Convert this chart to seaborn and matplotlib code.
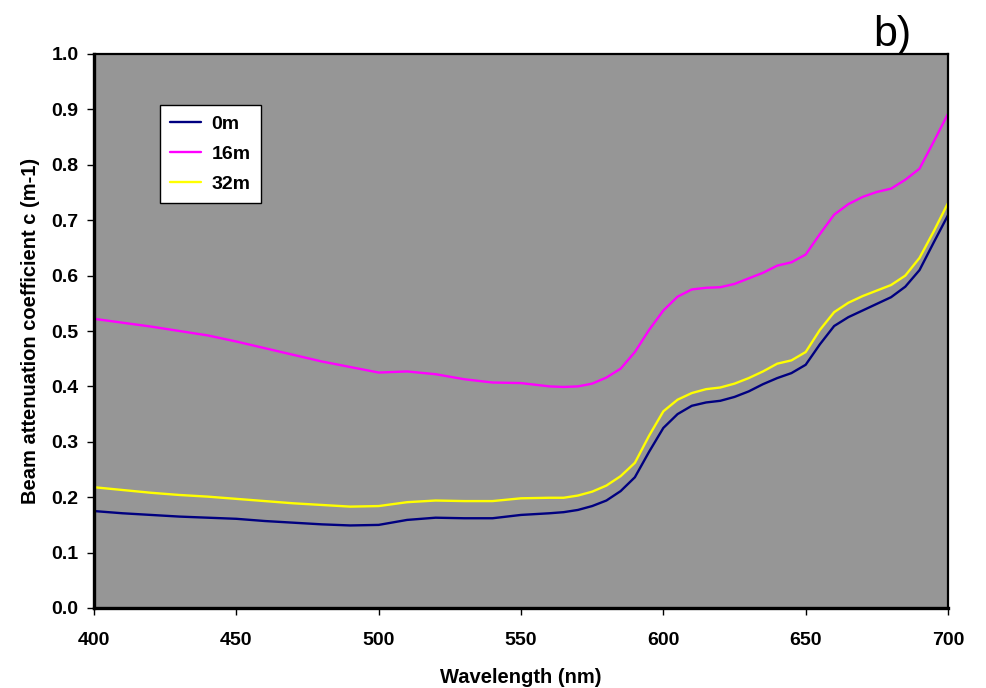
import matplotlib
matplotlib.use("Agg")
import matplotlib.pyplot as plt
import seaborn as sns
import pandas as pd

wavelength = [400, 410, 420, 430, 440, 450, 460, 470, 480, 490, 500, 510, 520, 530, 540, 550, 560,
              565, 570, 575, 580, 585, 590, 595, 600, 605, 610, 615, 620, 625, 630, 635, 640, 645,
              650, 655, 660, 665, 670, 675, 680, 685, 690, 695, 700]

c_0m = [0.175, 0.171, 0.168, 0.165, 0.163, 0.161, 0.157, 0.154, 0.151, 0.149, 0.150, 0.159, 0.163,
        0.162, 0.162, 0.168, 0.171, 0.173, 0.177, 0.184, 0.194, 0.211, 0.236, 0.282, 0.325, 0.350,
        0.365, 0.371, 0.374, 0.381, 0.391, 0.404, 0.415, 0.424, 0.439, 0.476, 0.509, 0.525, 0.537,
        0.549, 0.561, 0.580, 0.610, 0.660, 0.709]

c_16m = [0.522, 0.515, 0.508, 0.500, 0.492, 0.481, 0.469, 0.457, 0.445, 0.435, 0.425, 0.427, 0.422,
         0.413, 0.407, 0.406, 0.400, 0.399, 0.400, 0.405, 0.416, 0.432, 0.462, 0.502, 0.537, 0.562,
         0.575, 0.578, 0.579, 0.585, 0.595, 0.605, 0.618, 0.624, 0.638, 0.675, 0.710, 0.729, 0.742,
         0.751, 0.757, 0.773, 0.793, 0.842, 0.892]

c_32m = [0.218, 0.213, 0.208, 0.204, 0.201, 0.197, 0.193, 0.189, 0.186, 0.183, 0.184, 0.191, 0.194,
         0.193, 0.193, 0.198, 0.199, 0.199, 0.203, 0.210, 0.221, 0.238, 0.262, 0.311, 0.355, 0.376,
         0.388, 0.395, 0.398, 0.405, 0.415, 0.427, 0.441, 0.447, 0.462, 0.502, 0.534, 0.551, 0.563,
         0.573, 0.583, 0.600, 0.632, 0.680, 0.731]

series_names = ["0m", "16m", "32m"]
colors = ["#000080", "#FF00FF", "#FFFF00"]

x_ticks = [400, 450, 500, 550, 600, 650, 700]
y_ticks = [0.0, 0.1, 0.2, 0.3, 0.4, 0.5, 0.6, 0.7, 0.8, 0.9, 1.0]

rows = []
for name, vals in zip(series_names, [c_0m, c_16m, c_32m]):
    for w, v in zip(wavelength, vals):
        rows.append({"Wavelength": w, "c": v, "Depth": name})
df = pd.DataFrame(rows)

sns.set_style("white")
plt.rcParams['font.family'] = ['Liberation Sans', 'DejaVu Sans']
plt.rcParams['text.color'] = 'black'
plt.rcParams['axes.labelcolor'] = 'black'
plt.rcParams['xtick.color'] = 'black'
plt.rcParams['ytick.color'] = 'black'

fig = plt.figure(figsize=(9.86, 6.88), dpi=100)
ax = fig.add_axes([94/986, 1 - 608/688, (948 - 94)/986, (608 - 54)/688])
ax.set_facecolor("#969696")

sns.lineplot(data=df, x="Wavelength", y="c", hue="Depth", hue_order=series_names,
             palette=dict(zip(series_names, colors)), linewidth=1.7, ax=ax)
for ln in ax.get_lines():
    ln.set_solid_joinstyle("round")

ax.set_xlim(400, 700)
ax.set_ylim(0, 1.0)
ax.set_xticks(x_ticks)
ax.set_xticklabels([str(t) for t in x_ticks], fontweight="bold", fontsize=14)
ax.set_yticks(y_ticks)
ax.set_yticklabels([f"{t:.1f}" for t in y_ticks], fontweight="bold", fontsize=14)
ax.tick_params(axis="both", direction="out", length=5, width=1, color="black",
               labelcolor="black", bottom=True, left=True)
ax.tick_params(axis="y", pad=6)
ax.tick_params(axis="x", pad=12)

for side in ["left", "bottom"]:
    ax.spines[side].set_linewidth(2.4)
    ax.spines[side].set_color("black")
for side in ["top", "right"]:
    ax.spines[side].set_linewidth(1.6)
    ax.spines[side].set_color("black")

ax.set_xlabel("Wavelength (nm)", fontweight="bold", fontsize=14.5, labelpad=14, color="black")
ax.set_ylabel("Beam attenuation coefficient c (m-1)", fontweight="bold", fontsize=14.5,
              labelpad=8, color="black")

leg = ax.legend(loc="upper left", bbox_to_anchor=(0.077, 0.908), borderaxespad=0,
                frameon=True, fancybox=False, fontsize=14, handlelength=1.55,
                labelspacing=0.62, borderpad=0.55, handletextpad=0.55)
leg.get_frame().set_facecolor("white")
leg.get_frame().set_edgecolor("black")
leg.get_frame().set_linewidth(1.0)
leg.get_frame().set_alpha(1)
for t in leg.get_texts():
    t.set_fontweight("bold")
    t.set_color("black")

fig.text(892/986, 1 - 46/688, "b)", fontsize=31, ha="center", va="baseline", color="black")

fig.savefig("out.png", dpi=100, facecolor="white")
